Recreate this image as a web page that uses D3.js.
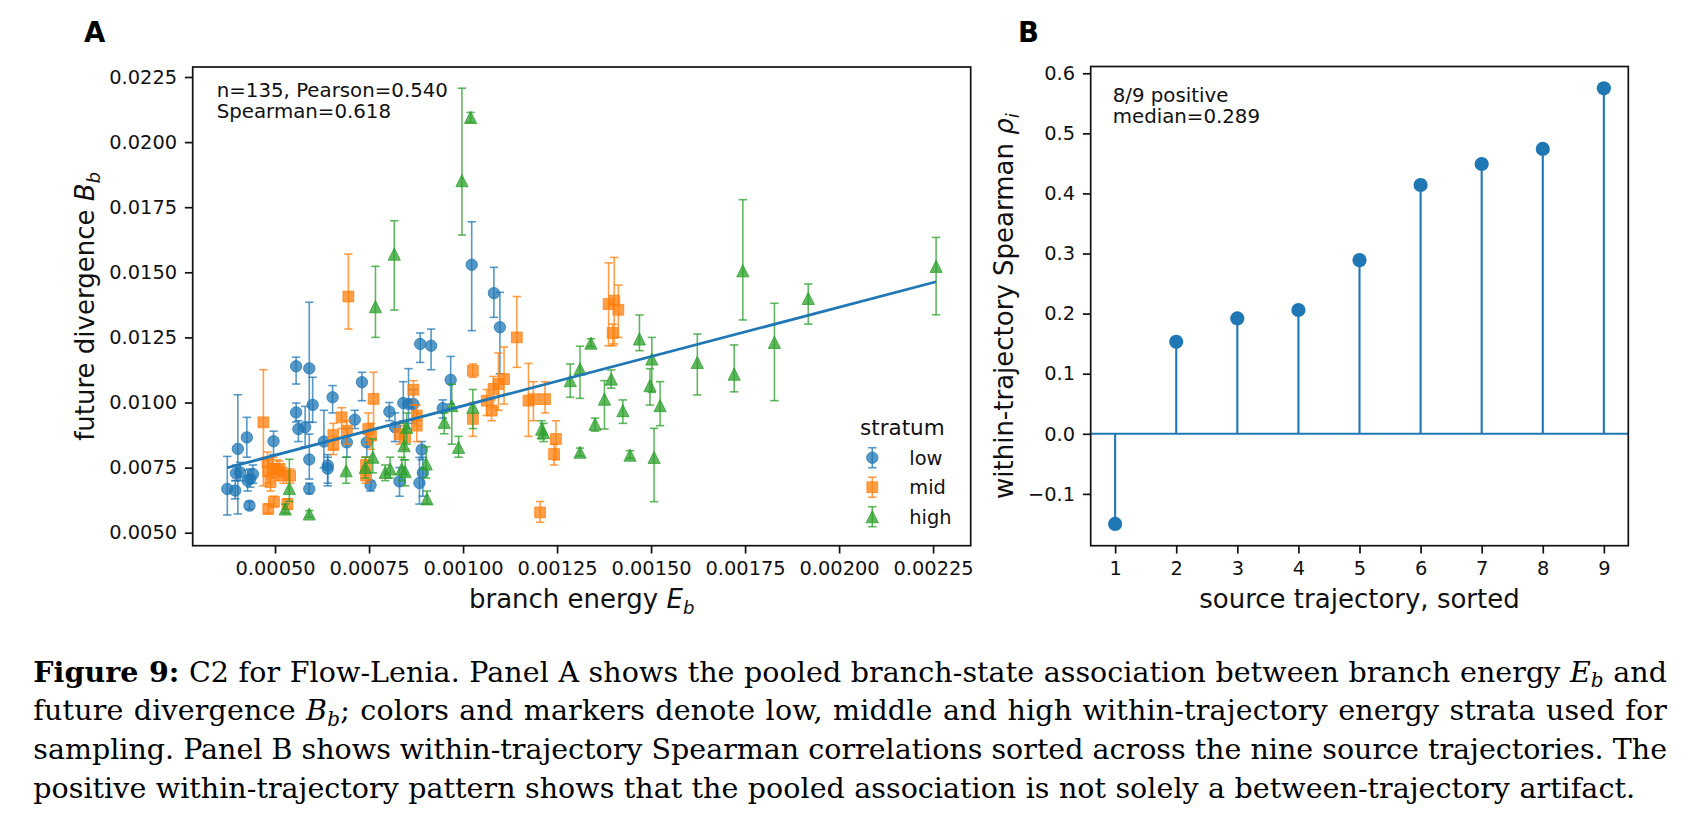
<!DOCTYPE html>
<html><head><meta charset="utf-8">
<script src="https://cdn.jsdelivr.net/npm/d3@7"></script>
<style>body{margin:0;background:#fff}svg{display:block}</style>
</head><body>
<svg id="c" width="1700" height="827"></svg>
<script>
// ---------- DATA ----------
// Panel A: [branch energy E_b, future divergence B_b, lower CI, upper CI]
const lowPoints = [
[0.000373,0.00668,0.00568,0.00793],[0.000394,0.00662,0.00630,0.00700],[0.000401,0.00822,0.00572,0.01030],
[0.000396,0.00728,0.00700,0.00760],[0.000407,0.00732,0.00700,0.00770],[0.000425,0.00866,0.00790,0.00943],
[0.000427,0.00700,0.00660,0.00740],[0.000434,0.00707,0.00675,0.00745],[0.000441,0.00725,0.00690,0.00760],
[0.000432,0.00604,0.00590,0.00620],[0.000496,0.00851,0.00800,0.00890],[0.000556,0.01139,0.01071,0.01174],
[0.000556,0.00962,0.00925,0.00998],[0.000562,0.00898,0.00850,0.00930],[0.000580,0.00905,0.00830,0.00985],
[0.000591,0.01131,0.00924,0.01385],[0.000600,0.00991,0.00924,0.01097],[0.000591,0.00781,0.00706,0.00879],
[0.000591,0.00668,0.00650,0.00690],[0.000630,0.00850,0.00750,0.00970],[0.000640,0.00758,0.00690,0.00800],
[0.000640,0.00746,0.00680,0.00790],[0.000653,0.01020,0.00960,0.01065],[0.000691,0.00847,0.00790,0.00900],
[0.000712,0.00934,0.00900,0.00970],[0.000731,0.01078,0.01007,0.01116],[0.000744,0.00847,0.00790,0.00880],
[0.000754,0.00683,0.00660,0.00700],[0.000804,0.00965,0.00930,0.01000],[0.000819,0.00905,0.00850,0.00960],
[0.000831,0.00697,0.00640,0.00750],[0.000841,0.00998,0.00930,0.01080],[0.000855,0.00994,0.00900,0.01130],
[0.000868,0.00994,0.00920,0.01050],[0.000884,0.00691,0.00610,0.00789],[0.000886,0.01225,0.01154,0.01267],
[0.000890,0.00819,0.00780,0.00850],[0.000893,0.00730,0.00640,0.00790],[0.000915,0.01218,0.01126,0.01282],
[0.000946,0.00978,0.00940,0.01010],[0.000967,0.01087,0.00994,0.01177],[0.001023,0.01529,0.01276,0.01694],
[0.001082,0.01420,0.01327,0.01519],[0.001098,0.01289,0.01110,0.01423]
];
const midPoints = [
[0.000469,0.00924,0.00680,0.01126],[0.000480,0.00770,0.00720,0.00810],[0.000482,0.00735,0.00690,0.00780],
[0.000488,0.00694,0.00660,0.00730],[0.000496,0.00745,0.00710,0.00790],[0.000505,0.00740,0.00700,0.00780],
[0.000512,0.00745,0.00715,0.00775],[0.000522,0.00720,0.00690,0.00750],[0.000540,0.00719,0.00690,0.00745],
[0.000482,0.00591,0.00575,0.00610],[0.000497,0.00619,0.00600,0.00640],[0.000533,0.00610,0.00590,0.00630],
[0.000655,0.00875,0.00820,0.00920],[0.000655,0.00837,0.00800,0.00870],[0.000677,0.00943,0.00900,0.00980],
[0.000691,0.00892,0.00840,0.00930],[0.000695,0.01407,0.01282,0.01570],[0.000742,0.00760,0.00720,0.00790],
[0.000742,0.00719,0.00690,0.00750],[0.000748,0.00898,0.00840,0.00960],[0.000755,0.00873,0.00820,0.00920],
[0.000762,0.01014,0.00898,0.01116],[0.000831,0.00879,0.00840,0.00920],[0.000846,0.00866,0.00820,0.00910],
[0.000868,0.01049,0.00990,0.01084],[0.000877,0.00950,0.00910,0.00990],[0.000877,0.00911,0.00850,0.00960],
[0.001026,0.01122,0.01097,0.01148],[0.001026,0.00937,0.00870,0.01000],[0.001063,0.01007,0.00950,0.01050],
[0.001076,0.00969,0.00930,0.01010],[0.001081,0.01052,0.00980,0.01100],[0.001094,0.01071,0.00970,0.01190],
[0.001109,0.01090,0.00994,0.01213],[0.001143,0.01250,0.01135,0.01407],[0.001174,0.01007,0.00870,0.01150],
[0.001187,0.01013,0.00930,0.01080],[0.001218,0.01013,0.00960,0.01080],[0.001247,0.00860,0.00780,0.00930],
[0.001242,0.00802,0.00760,0.00840],[0.001205,0.00578,0.00540,0.00620],[0.001387,0.01378,0.01218,0.01536],
[0.001402,0.01391,0.01225,0.01557],[0.001413,0.01356,0.01250,0.01451],[0.001398,0.01267,0.01218,0.01301]
];
const highPoints = [
[0.000527,0.00591,0.00575,0.00610],[0.000538,0.00670,0.00620,0.00782],[0.000591,0.00572,0.00560,0.00585],
[0.000689,0.00738,0.00690,0.00790],[0.000740,0.00751,0.00710,0.00790],[0.000760,0.00790,0.00730,0.00860],
[0.000767,0.01368,0.01250,0.01523],[0.000817,0.01570,0.01355,0.01698],[0.000793,0.00732,0.00700,0.00760],
[0.000806,0.00745,0.00710,0.00790],[0.000837,0.00745,0.00700,0.00790],[0.000846,0.00735,0.00680,0.00780],
[0.000843,0.00834,0.00780,0.00920],[0.000850,0.00905,0.00840,0.00960],[0.000902,0.00764,0.00710,0.00830],
[0.000904,0.00630,0.00610,0.00660],[0.000950,0.00924,0.00880,0.00960],[0.000970,0.00988,0.00840,0.01070],
[0.000988,0.00828,0.00790,0.00870],[0.000997,0.01852,0.01643,0.02207],[0.001020,0.02095,0.02076,0.02114],
[0.001026,0.00982,0.00900,0.01050],[0.001209,0.00898,0.00860,0.00930],[0.001214,0.00885,0.00850,0.00920],
[0.001285,0.01084,0.01020,0.01148],[0.001311,0.01129,0.01016,0.01216],[0.001311,0.00809,0.00795,0.00825],
[0.001340,0.01228,0.01215,0.01245],[0.001351,0.00917,0.00890,0.00940],[0.001376,0.01013,0.00898,0.01084],
[0.001394,0.01090,0.01055,0.01125],[0.001425,0.00969,0.00920,0.01010],[0.001444,0.00798,0.00785,0.00815],
[0.001469,0.01244,0.01199,0.01336],[0.001502,0.01167,0.01039,0.01250],[0.001497,0.01065,0.00990,0.01130],
[0.001524,0.00988,0.00911,0.01080],[0.001508,0.00789,0.00619,0.00901],[0.001623,0.01154,0.01029,0.01263],
[0.001721,0.01109,0.01041,0.01221],[0.001744,0.01506,0.01317,0.01779],[0.001828,0.01231,0.01007,0.01381],
[0.001918,0.01400,0.01301,0.01455],[0.002258,0.01523,0.01337,0.01634]
];
const strata = ["low","mid","high"];
const strataColors = ["#1f77b4","#ff7f0e","#2ca02c"];
const fitSlope = 3.79, fitIntercept = 0.00608;
const xTicksA = [0.0005,0.00075,0.001,0.00125,0.0015,0.00175,0.002,0.00225];
const yTicksA = [0.005,0.0075,0.01,0.0125,0.015,0.0175,0.02,0.0225];
const statsA = ["n=135, Pearson=0.540","Spearman=0.618"];

// Panel B
const trajectoryRank = [1,2,3,4,5,6,7,8,9];
const rhoValues = [-0.150,0.153,0.192,0.206,0.289,0.414,0.449,0.474,0.575];
const xTicksB = [1,2,3,4,5,6,7,8,9];
const yTicksB = [-0.1,0,0.1,0.2,0.3,0.4,0.5,0.6];
const statsB = ["8/9 positive","median=0.289"];

const captionLines = [
 [{t:"Figure 9:",b:1},{t:" C2 for Flow-Lenia. Panel A shows the pooled branch-state association between branch energy "},{t:"E",i:1},{t:"b",i:1,sub:1},{t:" and"}],
 [{t:"future divergence "},{t:"B",i:1},{t:"b",i:1,sub:1},{t:"; colors and markers denote low, middle and high within-trajectory energy strata used for"}],
 [{t:"sampling. Panel B shows within-trajectory Spearman correlations sorted across the nine source trajectories. The"}],
 [{t:"positive within-trajectory pattern shows that the pooled association is not solely a between-trajectory artifact."}]
];

// ---------- LAYOUT ----------
const svg = d3.select("#c");
const SANS = "DejaVu Sans, sans-serif";
const INK = "#111";
const TICK = 7.8, PAD = 7.8, TFS = 19.4;

function styleAxis(g){
  g.select(".domain").remove();
  g.selectAll(".tick line").attr("stroke",INK).attr("stroke-width",1.7);
  g.selectAll(".tick text").attr("fill",INK).attr("font-size",TFS).attr("font-family",SANS);
}
function frame(p){
  svg.append("rect").attr("x",p.l).attr("y",p.t).attr("width",p.r-p.l).attr("height",p.b-p.t)
    .attr("fill","none").attr("stroke",INK).attr("stroke-width",1.7);
}
function mathLabel(sel, parts, fs){
  parts.forEach(p=>{
    const ts = sel.append("tspan").text(p.t);
    if(p.i) ts.attr("font-style","italic");
    if(p.sub) ts.attr("font-size",fs*0.7).attr("dy",fs*0.22);
  });
}

// ---------- PANEL A ----------
const PA = {l:192.7,t:67,r:970.7,b:545.7};
const xA = d3.scaleLinear().domain([0.000281,0.00235]).range([PA.l,PA.r]);
const yA = d3.scaleLinear().domain([0.004501,0.022884]).range([PA.b,PA.t]);

svg.append("g").attr("transform",`translate(0,${PA.b})`)
  .call(d3.axisBottom(xA).tickValues(xTicksA).tickFormat(d3.format(".5f")).tickSize(TICK).tickPadding(PAD).tickSizeOuter(0))
  .call(styleAxis);
svg.append("g").attr("transform",`translate(${PA.l},0)`)
  .call(d3.axisLeft(yA).tickValues(yTicksA).tickFormat(d3.format(".4f")).tickSize(TICK).tickPadding(PAD).tickSizeOuter(0))
  .call(styleAxis);

function markerPath(shape, cx, cy, s){
  const h = s/2;
  if(shape==="square") return `M${cx-h},${cy-h}h${s}v${s}h${-s}Z`;
  return `M${cx},${cy-h}L${cx+h},${cy+h}L${cx-h},${cy+h}Z`;
}
const shapes = ["circle","square","triangle"];
const MS = 11.4, TS = 12.2, CAP = 4.2;

const plotA = svg.append("g");
[lowPoints, midPoints, highPoints].forEach((pts,k)=>{
  const col = strataColors[k], g = plotA.append("g");
  g.selectAll("line.v").data(pts).join("line")
    .attr("x1",d=>xA(d[0])).attr("x2",d=>xA(d[0])).attr("y1",d=>yA(d[2])).attr("y2",d=>yA(d[3]))
    .attr("stroke",col).attr("stroke-width",1.6).attr("stroke-opacity",0.75);
  [2,3].forEach(j=>{
    g.selectAll("line.c"+j).data(pts).join("line")
      .attr("x1",d=>xA(d[0])-CAP).attr("x2",d=>xA(d[0])+CAP).attr("y1",d=>yA(d[j])).attr("y2",d=>yA(d[j]))
      .attr("stroke",col).attr("stroke-width",1.6).attr("stroke-opacity",0.75);
  });
  if(shapes[k]==="circle"){
    g.selectAll("circle").data(pts).join("circle").attr("cx",d=>xA(d[0])).attr("cy",d=>yA(d[1])).attr("r",MS/2)
      .attr("fill",col).attr("fill-opacity",0.75).attr("stroke",col).attr("stroke-opacity",0.75).attr("stroke-width",1);
  } else {
    g.selectAll("path").data(pts).join("path").attr("d",d=>markerPath(shapes[k],xA(d[0]),yA(d[1]),shapes[k]==="triangle"?TS:MS-0.6))
      .attr("fill",col).attr("fill-opacity",0.75).attr("stroke",col).attr("stroke-opacity",0.75).attr("stroke-width",1);
  }
});
// regression line
const allX = [...lowPoints,...midPoints,...highPoints].map(d=>d[0]);
const fx = d3.extent(allX);
svg.append("line").attr("x1",xA(fx[0])).attr("x2",xA(fx[1]))
  .attr("y1",yA(fitSlope*fx[0]+fitIntercept)).attr("y2",yA(fitSlope*fx[1]+fitIntercept))
  .attr("stroke","#1f77b4").attr("stroke-width",2.8);
frame(PA);

statsA.forEach((s,i)=>svg.append("text").attr("x",216.7).attr("y",96.7+i*21.6).attr("font-family",SANS).attr("font-size",19.8).attr("fill",INK).text(s));

// legend
const leg = svg.append("g");
leg.append("text").attr("x",860).attr("y",435).attr("font-family",SANS).attr("font-size",21.5).attr("fill",INK).text("stratum");
strata.forEach((s,k)=>{
  const cy = 457.7+k*29.5, cx = 872.3, col = strataColors[k];
  [[cx,cy-10,cx,cy+10],[cx-CAP,cy-10,cx+CAP,cy-10],[cx-CAP,cy+10,cx+CAP,cy+10]].forEach(l=>
    leg.append("line").attr("x1",l[0]).attr("y1",l[1]).attr("x2",l[2]).attr("y2",l[3]).attr("stroke",col).attr("stroke-width",1.6).attr("stroke-opacity",0.75));
  if(k===0) leg.append("circle").attr("cx",cx).attr("cy",cy).attr("r",MS/2).attr("fill",col).attr("fill-opacity",0.75).attr("stroke",col).attr("stroke-opacity",0.75);
  else leg.append("path").attr("d",markerPath(shapes[k],cx,cy,k===2?TS:MS-0.6)).attr("fill",col).attr("fill-opacity",0.75).attr("stroke",col).attr("stroke-opacity",0.75);
  leg.append("text").attr("x",909.3).attr("y",cy+7.2).attr("font-family",SANS).attr("font-size",TFS).attr("fill",INK).text(s);
});

// axis labels A
const LFS = 26;
mathLabel(svg.append("text").attr("x",(PA.l+PA.r)/2).attr("y",608).attr("text-anchor","middle").attr("font-family",SANS).attr("font-size",LFS).attr("fill",INK),
  [{t:"branch energy "},{t:"E",i:1},{t:"b",i:1,sub:1}], LFS);
mathLabel(svg.append("text").attr("transform",`translate(94,${(PA.t+PA.b)/2}) rotate(-90)`).attr("text-anchor","middle").attr("font-family",SANS).attr("font-size",LFS).attr("fill",INK),
  [{t:"future divergence "},{t:"B",i:1},{t:"b",i:1,sub:1}], LFS);

svg.append("text").attr("x",84).attr("y",41.7).attr("font-family",SANS).attr("font-weight","bold").attr("font-size",27.5).attr("fill","#000").text("A");
svg.append("text").attr("x",1018).attr("y",41.7).attr("font-family",SANS).attr("font-weight","bold").attr("font-size",27.5).attr("fill","#000").text("B");

// ---------- PANEL B ----------
const PB = {l:1090.7,t:66.5,r:1628.3,b:545.7};
const xB = d3.scaleLinear().domain([0.6,9.4]).range([PB.l,PB.r]);
const ext = d3.extent(rhoValues), padB = (ext[1]-ext[0])*0.05;
const yB = d3.scaleLinear().domain([ext[0]-padB, ext[1]+padB]).range([PB.b,PB.t]);

svg.append("g").attr("transform",`translate(0,${PB.b})`)
  .call(d3.axisBottom(xB).tickValues(xTicksB).tickFormat(d3.format("d")).tickSize(TICK).tickPadding(PAD).tickSizeOuter(0))
  .call(styleAxis);
svg.append("g").attr("transform",`translate(${PB.l},0)`)
  .call(d3.axisLeft(yB).tickValues(yTicksB).tickFormat(d=>(d<-1e-9?"\u2212":"")+Math.abs(d).toFixed(1)).tickSize(TICK).tickPadding(PAD).tickSizeOuter(0))
  .call(styleAxis);

const plotB = svg.append("g");
plotB.append("line").attr("x1",PB.l).attr("x2",PB.r).attr("y1",yB(0)).attr("y2",yB(0)).attr("stroke","#1f77b4").attr("stroke-width",2.1);
plotB.selectAll("line.stem").data(rhoValues).join("line").attr("class","stem")
  .attr("x1",(d,i)=>xB(trajectoryRank[i])).attr("x2",(d,i)=>xB(trajectoryRank[i]))
  .attr("y1",yB(0)).attr("y2",d=>yB(d)).attr("stroke","#1f77b4").attr("stroke-width",2.1);
plotB.selectAll("circle").data(rhoValues).join("circle")
  .attr("cx",(d,i)=>xB(trajectoryRank[i])).attr("cy",d=>yB(d)).attr("r",7.1).attr("fill","#1f77b4");
frame(PB);

statsB.forEach((s,i)=>svg.append("text").attr("x",1112.7).attr("y",101.7+i*21.6).attr("font-family",SANS).attr("font-size",19.8).attr("fill",INK).text(s));

svg.append("text").attr("x",(PB.l+PB.r)/2).attr("y",608).attr("text-anchor","middle").attr("font-family",SANS).attr("font-size",LFS).attr("fill",INK).text("source trajectory, sorted");
mathLabel(svg.append("text").attr("transform",`translate(1013,${(PB.t+PB.b)/2}) rotate(-90)`).attr("text-anchor","middle").attr("font-family",SANS).attr("font-size",LFS).attr("fill",INK),
  [{t:"within-trajectory Spearman "},{t:"\u03c1",i:1},{t:"i",i:1,sub:1}], LFS);

// ---------- CAPTION ----------
const capX = 33.3, capEnds = [1667,1667,1667,1635], capBase = [681.7,720.3,759,797.7], CFS = 28.5;
captionLines.forEach((parts,li)=>{
  const t = svg.append("text").attr("x",capX).attr("y",capBase[li]).attr("font-family","DejaVu Serif, serif").attr("font-size",CFS).attr("fill","#000");
  parts.forEach((p,pi)=>{
    const ts = t.append("tspan").text(p.t);
    if(p.b) ts.attr("font-weight","bold");
    if(p.i) ts.attr("font-style","italic");
    if(p.sub) ts.attr("font-size",CFS*0.7).attr("dy",CFS*0.2);
    else if(pi>0 && parts[pi-1].sub) ts.attr("dy",-CFS*0.2);
  });
  const node = t.node();
  const txt = node.textContent;
  const nSp = (txt.match(/ /g)||[]).length;
  let w = node.getComputedTextLength();
  let gap = capEnds[li]-capX-w;
  if(gap>0){
    const ls = gap*0.5/txt.length;
    t.attr("letter-spacing", ls);
    w = node.getComputedTextLength();
    gap = capEnds[li]-capX-w;
  }
  if(nSp>0) t.attr("word-spacing", gap/nSp);
});
</script>
</body></html>
